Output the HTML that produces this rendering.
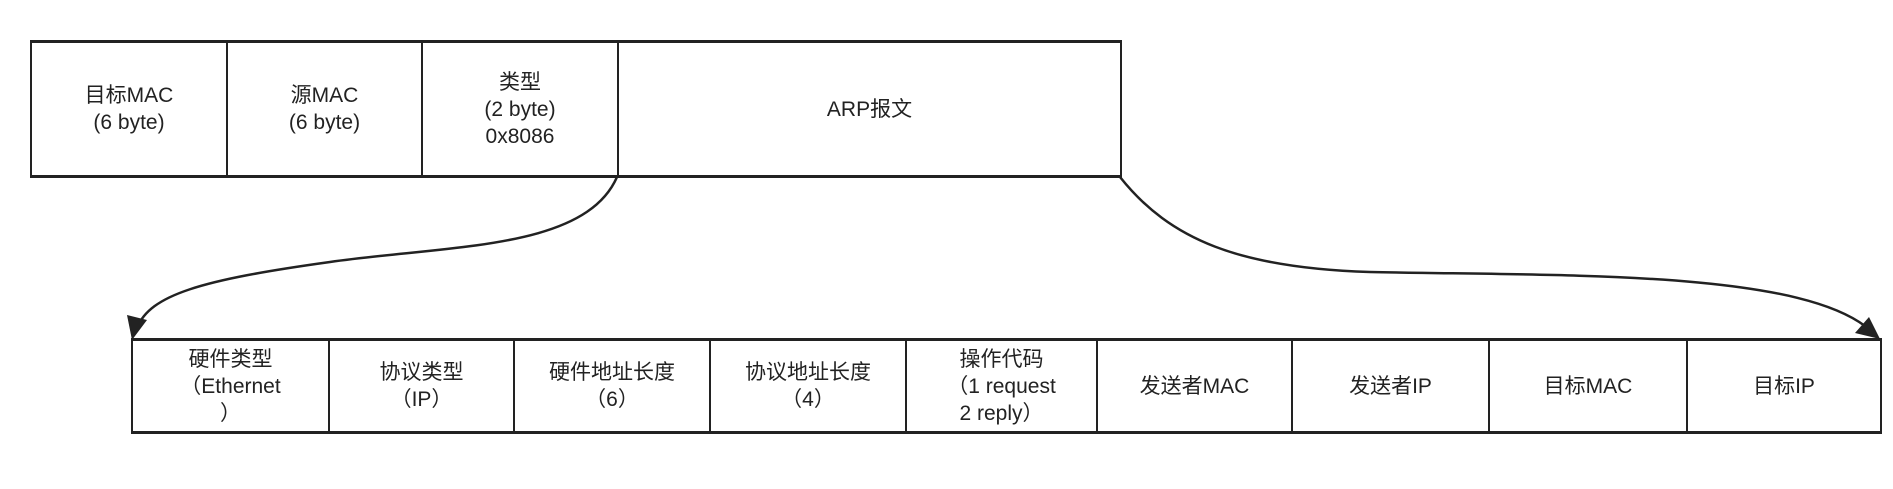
<!DOCTYPE html>
<html><head><meta charset="utf-8"><style>
html,body{margin:0;padding:0;background:#fff;}
body{width:1893px;height:489px;position:relative;overflow:hidden;font-family:"Liberation Sans","Noto Sans CJK SC",sans-serif;color:#222;}
.b{position:absolute;box-sizing:border-box;border:2px solid #222;display:flex;align-items:center;justify-content:center;text-align:center;font-size:21px;line-height:27px;}
.t{border-top-width:3px;border-bottom-width:3px;}
</style></head><body>
<div class="b t" style="left:30px;top:40px;width:198px;height:138px;">目标MAC<br>(6 byte)</div>
<div class="b t" style="left:226px;top:40px;width:197px;height:138px;">源MAC<br>(6 byte)</div>
<div class="b t" style="left:421px;top:40px;width:198px;height:138px;">类型<br>(2 byte)<br>0x8086</div>
<div class="b t" style="left:617px;top:40px;width:505px;height:138px;">ARP报文</div>

<div class="b t" style="left:131px;top:338px;width:199px;height:96px;">硬件类型<br>（Ethernet<br>）</div>
<div class="b t" style="left:328px;top:338px;width:187px;height:96px;">协议类型<br>（IP）</div>
<div class="b t" style="left:513px;top:338px;width:198px;height:96px;">硬件地址长度<br>（6）</div>
<div class="b t" style="left:709px;top:338px;width:198px;height:96px;">协议地址长度<br>（4）</div>
<div class="b t" style="left:905px;top:338px;width:193px;height:96px;">操作代码<br>（1 request<br>2 reply）</div>
<div class="b t" style="left:1096px;top:338px;width:197px;height:96px;">发送者MAC</div>
<div class="b t" style="left:1291px;top:338px;width:199px;height:96px;">发送者IP</div>
<div class="b t" style="left:1488px;top:338px;width:200px;height:96px;">目标MAC</div>
<div class="b t" style="left:1686px;top:338px;width:196px;height:96px;">目标IP</div>

<svg width="1893" height="489" style="position:absolute;left:0;top:0" xmlns="http://www.w3.org/2000/svg">
<path d="M617,177 C585,250 450,245 330,262 C200,280 150,295 137,328" fill="none" stroke="#222" stroke-width="2.5"/>
<polygon points="132,340 127,315 147,320" fill="#222"/>
<path d="M1120,177 C1170,240 1240,268 1370,272 C1560,276 1790,270 1865,326" fill="none" stroke="#222" stroke-width="2.5"/>
<polygon points="1880,339 1855,333 1869,317" fill="#222"/>
</svg>
</body></html>
